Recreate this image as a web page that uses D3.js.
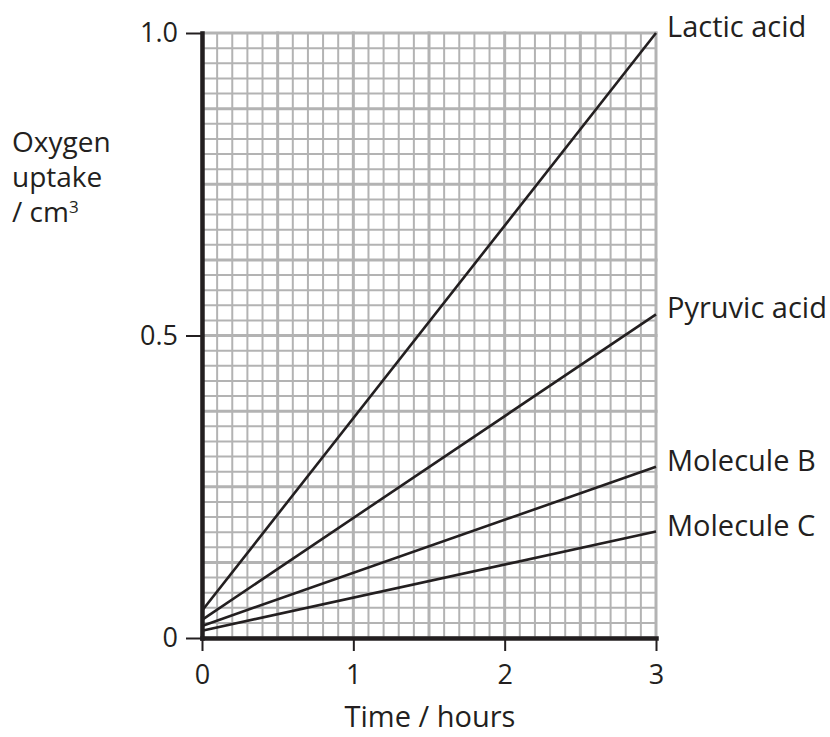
<!DOCTYPE html>
<html lang="en">
<head>
<meta charset="UTF-8">
<title>Oxygen uptake</title>
<script src="https://d3js.org/d3.v7.min.js"></script>
<style>
    body { margin: 0; background: #fff; }
    text { font-family: "Open Sans", sans-serif; fill: #231f20; }
    .minor { stroke: #b3b3b3; stroke-width: 2; }
    .major { stroke: #b3b3b3; stroke-width: 3; }
    .series { fill: none; stroke: #231f20; stroke-width: 2.6; }
</style>
</head>
<body>
<div id="chart"></div>
<script>
    // data
    const times = [0, 3];
    const seriesNames = ["Lactic acid", "Pyruvic acid", "Molecule B", "Molecule C"];
    const lacticAcid = [0.045, 1.0];
    const pyruvicAcid = [0.03, 0.535];
    const moleculeB = [0.02, 0.283];
    const moleculeC = [0.012, 0.176];
    const xTicks = [0, 1, 2, 3];
    const yTicks = [0, 0.5, 1.0];
    const yTickLabels = ["0", "0.5", "1.0"];

    const width = 830, height = 737;
    const svg = d3.select("#chart").append("svg")
        .attr("width", width)
        .attr("height", height);

    const x = d3.scaleLinear().domain([0, 3]).range([202, 656]);
    const y = d3.scaleLinear().domain([0, 1]).range([638, 33]);

    // grid paper
    const grid = svg.append("g");
    const vMinor = d3.range(0, 31).map(i => i / 10);
    const hMinor = d3.range(0, 41).map(i => i / 40);
    grid.selectAll(".vmin").data(vMinor.filter((d, i) => i % 5 != 0))
        .enter().append("line").attr("class", "minor")
        .attr("x1", d => x(d)).attr("x2", d => x(d))
        .attr("y1", y(0)).attr("y2", y(1));
    grid.selectAll(".hmin").data(hMinor.filter((d, i) => i % 5 != 0))
        .enter().append("line").attr("class", "minor")
        .attr("x1", x(0)).attr("x2", x(3))
        .attr("y1", d => y(d)).attr("y2", d => y(d));
    grid.selectAll(".vmaj").data(vMinor.filter((d, i) => i % 5 == 0))
        .enter().append("line").attr("class", "major")
        .attr("x1", d => x(d)).attr("x2", d => x(d))
        .attr("y1", y(0)).attr("y2", y(1) - 1.5);
    grid.selectAll(".hmaj").data(hMinor.filter((d, i) => i % 5 == 0))
        .enter().append("line").attr("class", "major")
        .attr("x1", x(0)).attr("x2", x(3) + 1.5)
        .attr("y1", d => y(d)).attr("y2", d => y(d));

    // lines
    const allSeries = [lacticAcid, pyruvicAcid, moleculeB, moleculeC];
    const line = d3.line()
        .x((d, i) => x(times[i]))
        .y(d => y(d));
    svg.selectAll(".series").data(allSeries)
        .enter().append("path")
        .attr("class", "series")
        .attr("d", line);

    // axes
    const yAxis = d3.axisLeft(y).tickValues(yTicks).tickSize(16).tickSizeOuter(0)
        .tickFormat((d, i) => yTickLabels[i]).tickPadding(8);
    const yg = svg.append("g").attr("transform", "translate(" + x(0) + ",0)").call(yAxis);
    const xAxis = d3.axisBottom(x).tickValues(xTicks).tickSize(13).tickSizeOuter(0)
        .tickFormat(d3.format("d")).tickPadding(10);
    const xg = svg.append("g").attr("transform", "translate(0," + y(0) + ")").call(xAxis);

    [yg, xg].forEach(g => {
        g.select(".domain").attr("stroke", "#231f20").attr("stroke-width", 4.5)
            .attr("stroke-linecap", "square");
        g.selectAll(".tick line").attr("stroke", "#231f20").attr("stroke-width", 2);
        g.selectAll(".tick text").style("font-size", "27px")
            .style("font-family", "'Open Sans', sans-serif").attr("fill", "#231f20");
    });
    xg.selectAll(".tick text").attr("dy", "0.85em");

    // series labels
    svg.selectAll(".lab").data(allSeries)
        .enter().append("text")
        .attr("x", 667)
        .attr("y", d => y(d[1]) + 4)
        .style("font-size", "29px")
        .text((d, i) => seriesNames[i]);

    // axis titles
    const yTitle = svg.append("text").attr("x", 12).style("font-size", "28px");
    yTitle.append("tspan").attr("x", 12).attr("y", 152).text("Oxygen");
    yTitle.append("tspan").attr("x", 12).attr("y", 187).text("uptake");
    yTitle.append("tspan").attr("x", 12).attr("y", 222).text("/ cm");
    yTitle.append("tspan").attr("dy", -9).style("font-size", "17px").text("3");

    svg.append("text")
        .attr("x", 430).attr("y", 727)
        .attr("text-anchor", "middle")
        .style("font-size", "29px")
        .text("Time / hours");
</script>
</body>
</html>
